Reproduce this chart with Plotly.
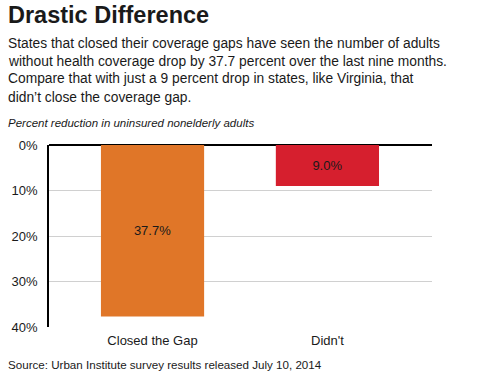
import plotly.graph_objects as go

categories = ["Closed the Gap", "Didn't"]
values = [37.7, 9.0]
bar_colors = ["#E07628", "#D61F2E"]
y_ticks = [0, 10, 20, 30, 40]
y_tick_labels = ["0%", "10%", "20%", "30%", "40%"]

title = "Drastic Difference"
subtitle_lines = [
    "States that closed their coverage gaps have seen the number of adults",
    "without health coverage drop by 37.7 percent over the last nine months.",
    "Compare that with just a 9 percent drop in states, like Virginia, that",
    "didn\u2019t close the coverage gap.",
]
note = "Percent reduction in uninsured nonelderly adults"
source = "Source: Urban Institute survey results released July 10, 2014"

W, H = 500, 375
L, R, T, B = 40, 68, 145, 48
PW, PH = W - L - R, H - T - B
FONT = "Liberation Sans, Arial, sans-serif"


def px(x):
    return (x - L) / PW


def py(y):
    return (H - B - y) / PH


fig = go.Figure(
    go.Bar(
        x=categories,
        y=values,
        marker=dict(color=bar_colors, line=dict(width=0)),
        width=0.59,
        text=[f"{v:.1f}%" for v in values],
        textposition="inside",
        insidetextanchor="middle",
        textfont=dict(family=FONT, size=13, color="#1a1a1a"),
        cliponaxis=False,
    )
)

X0 = -4
ann = [
    dict(text=f"<b>{title}</b>", x=px(X0), y=py(15), font=dict(size=23.5, color="#1a1a1a")),
]
for i, line in enumerate(subtitle_lines):
    ann.append(dict(text=line, x=px(X0), y=py(43 + i * 18), font=dict(size=13.8, color="#1a1a1a")))
ann.append(dict(text=f"<i>{note}</i>", x=px(X0), y=py(123), font=dict(size=11.5, color="#1a1a1a")))
ann.append(dict(text=source, x=px(X0), y=py(364), font=dict(size=11.6, color="#1a1a1a")))
for a in ann:
    a.update(xref="paper", yref="paper", xanchor="left", yanchor="middle", showarrow=False)
    a["font"]["family"] = FONT

fig.update_layout(
    width=W,
    height=H,
    margin=dict(l=L, r=R, t=T, b=B),
    paper_bgcolor="white",
    plot_bgcolor="white",
    showlegend=False,
    annotations=ann,
    font=dict(family=FONT, size=13, color="#1a1a1a"),
)
fig.update_xaxes(
    range=[-0.592, 1.598],
    showgrid=False,
    showline=False,
    ticks="",
    ticklabelstandoff=4,
    tickfont=dict(size=13, color="#1a1a1a"),
    fixedrange=True,
)
fig.update_yaxes(
    range=[40, 0],
    tickvals=y_ticks,
    ticktext=y_tick_labels,
    showgrid=True,
    gridcolor="#d0d0d0",
    gridwidth=1,
    zeroline=True,
    zerolinecolor="#000000",
    zerolinewidth=1.5,
    showline=True,
    linecolor="#000000",
    linewidth=1.5,
    ticks="",
    ticklabelstandoff=7,
    tickfont=dict(size=13, color="#1a1a1a"),
    fixedrange=True,
)

fig.write_html(
    "out.html",
    config={"displayModeBar": False},
    post_script="document.body.style.margin='0';document.body.style.padding='0';",
)
